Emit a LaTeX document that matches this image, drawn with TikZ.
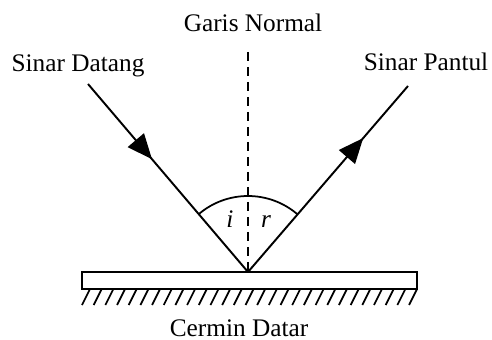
\documentclass[tikz,border=0pt]{standalone}
\usepackage{fontspec}
\setmainfont{Liberation Serif}
\usetikzlibrary{arrows.meta,decorations.markings}

\begin{document}
\begin{tikzpicture}[
    x=0.02cm, y=-0.02cm,
    caption/.style={font=\fontsize{14.4}{17}\selectfont, inner sep=0pt, anchor=base},
    ray/.style={line width=1.1pt, postaction={decorate},
        decoration={markings, mark=at position #1 with {\arrow{Triangle[length=0.5cm,width=0.42cm]}}}},
    normal/.style={line width=1.1pt, dash pattern=on 0.18cm off 0.12cm},
    mirror/.style={rectangle, draw=black, line width=1.1pt, minimum width=6.7cm, minimum height=0.34cm, inner sep=0pt},
    hatch/.style={line width=1pt},
    angle/.style={line width=1pt}
]
\useasboundingbox (0,0) rectangle (492,340);

% Mirror
\node[mirror] (mirror) at (249.5,280.5) {};
\foreach \k in {0,...,28}
    \draw[hatch] ({90+\k*11.68},289) -- ++(-8,16);

% Points of the rays
\coordinate (src) at (88,84);
\coordinate (hit) at (248,272);
\coordinate (out) at (408,86);
\coordinate (top) at (248,52);

% Normal line
\draw[normal] (top) -- (hit);

% Angles
\draw[angle] (hit) ++(49.3:-76) arc[start angle=49.3, end angle=130.7, radius=-76];
\node[caption] (i) at (230,228) {\textit{i}};
\node[caption] (r) at (266,228) {\textit{r}};

% Rays
\draw[ray=0.40] (src) -- (hit);
\draw[ray=0.72] (hit) -- (out);

% Labels
\node[caption] (datang) at (78,72) {Sinar Datang};
\node[caption] (normtext) at (253,32) {Garis Normal};
\node[caption] (pantul) at (426,71) {Sinar Pantul};
\node[caption] (cermin) at (239,336) {Cermin Datar};

\end{tikzpicture}
\end{document}
